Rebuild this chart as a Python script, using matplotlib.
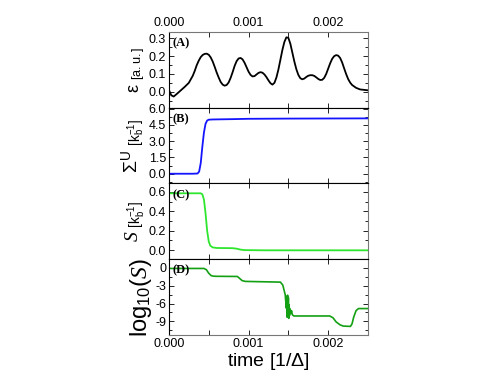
import numpy as np
import matplotlib
matplotlib.use('Agg')
from matplotlib import pyplot as plt
from matplotlib.ticker import MultipleLocator, FormatStrFormatter

plt.rcParams['font.family'] = ['Liberation Sans', 'DejaVu Sans']
plt.rcParams['axes.unicode_minus'] = False
plt.rcParams['mathtext.fontset'] = 'custom'
plt.rcParams['mathtext.rm'] = 'Liberation Sans'
plt.rcParams['mathtext.it'] = 'Liberation Serif:italic'

# panel A: field amplitude, time in units of 1e-3
tA = [0.00, 0.03, 0.06, 0.10, 0.15, 0.20, 0.25, 0.30, 0.325, 0.35, 0.375,
      0.40, 0.425, 0.45, 0.475, 0.50, 0.525, 0.55, 0.575, 0.60, 0.625, 0.65,
      0.675, 0.70, 0.725, 0.75, 0.775, 0.80, 0.825, 0.85, 0.875, 0.90, 0.925,
      0.95, 0.975, 1.00, 1.025, 1.05, 1.075, 1.10, 1.125, 1.15, 1.175, 1.20,
      1.225, 1.25, 1.275, 1.30, 1.325, 1.35, 1.375, 1.40, 1.425, 1.45, 1.475,
      1.50, 1.525, 1.55, 1.575, 1.60, 1.625, 1.65, 1.675, 1.70, 1.725, 1.75,
      1.775, 1.80, 1.825, 1.85, 1.875, 1.90, 1.925, 1.95, 1.975, 2.00, 2.025,
      2.05, 2.075, 2.10, 2.125, 2.15, 2.175, 2.20, 2.225, 2.25, 2.275, 2.30,
      2.35, 2.40, 2.50]
eps = [0.010, -0.020, -0.027, -0.012, 0.008, 0.028, 0.050, 0.090, 0.118,
       0.150, 0.175, 0.195, 0.207, 0.213, 0.214, 0.208, 0.193, 0.170, 0.140,
       0.108, 0.080, 0.055, 0.040, 0.034, 0.038, 0.052, 0.078, 0.110, 0.145,
       0.172, 0.187, 0.190, 0.182, 0.163, 0.138, 0.113, 0.095, 0.086, 0.088,
       0.097, 0.106, 0.110, 0.107, 0.097, 0.082, 0.064, 0.048, 0.040, 0.050,
       0.080, 0.125, 0.180, 0.235, 0.280, 0.306, 0.303, 0.270, 0.220, 0.170,
       0.127, 0.095, 0.076, 0.070, 0.074, 0.083, 0.090, 0.093, 0.093, 0.089,
       0.081, 0.072, 0.066, 0.067, 0.078, 0.100, 0.130, 0.160, 0.185, 0.200,
       0.206, 0.203, 0.190, 0.165, 0.132, 0.100, 0.072, 0.052, 0.038, 0.022,
       0.013, 0.008]

# panel B
tB = [0.00, 0.30, 0.36, 0.38, 0.40, 0.42, 0.44, 0.46, 0.48, 0.50, 0.55, 0.80,
      1.00, 1.50, 2.50]
sigU = [0.0, 0.0, 0.02, 0.2, 1.0, 2.5, 3.8, 4.6, 4.9, 4.98, 5.0, 5.03, 5.06,
        5.08, 5.1]

# panel C
tC = [0.00, 0.40, 0.42, 0.44, 0.46, 0.48, 0.50, 0.52, 0.55, 0.60, 0.80, 0.85,
      0.90, 0.95, 1.20, 2.50]
S = [0.585, 0.585, 0.575, 0.52, 0.38, 0.20, 0.09, 0.045, 0.028, 0.022, 0.020,
     0.015, 0.005, 0.0, -0.002, -0.002]

# panel D
tD = [0.00, 0.44, 0.47, 0.50, 0.53, 0.56, 0.59, 0.86, 0.89, 0.92, 0.96, 1.40,
      1.43, 1.46, 1.475, 1.48, 1.485, 1.49, 1.495, 1.50, 1.505, 1.51, 1.515,
      1.52, 1.53, 1.54, 1.55, 1.57, 2.02, 2.06, 2.10, 2.15, 2.19, 2.28, 2.30,
      2.32, 2.35, 2.38, 2.50]
logS = [-0.1, -0.1, -0.3, -0.9, -1.3, -1.4, -1.42, -1.45, -1.8, -2.15, -2.28,
        -2.4, -2.9, -4.5, -6.8, -4.8, -8.3, -4.6, -7.8, -5.0, -8.5, -6.2, -8.0,
        -6.9, -7.6, -7.2, -7.9, -8.1, -8.1, -8.4, -9.1, -9.6, -9.8, -9.85,
        -9.4, -8.3, -7.2, -6.85, -6.85]

fig = plt.figure(figsize=(4.91, 3.79), dpi=100)
gs = fig.add_gridspec(4, 1, left=0.344, right=0.7495, top=0.9156,
                      bottom=0.1161, hspace=0)
axs = [fig.add_subplot(gs[i]) for i in range(4)]

sc = 1e-3
axs[0].plot(np.array(tA) * sc, eps, color='black', lw=1.3)
axs[1].plot(np.array(tB) * sc, sigU, color='#1414ff', lw=1.3)
axs[2].plot(np.array(tC) * sc, S, color='#2ee62e', lw=1.3)
axs[3].plot(np.array(tD) * sc, logS, color='#13a013', lw=1.2)

axs[0].set_ylim(-0.09, 0.336)
axs[0].yaxis.set_major_locator(MultipleLocator(0.1))
axs[0].yaxis.set_minor_locator(MultipleLocator(0.05))
axs[0].yaxis.set_major_formatter(FormatStrFormatter('%.1f'))
axs[1].set_ylim(-0.9, 6.08)
axs[1].yaxis.set_major_locator(MultipleLocator(1.5))
axs[1].yaxis.set_minor_locator(MultipleLocator(0.75))
axs[1].yaxis.set_major_formatter(FormatStrFormatter('%.1f'))
axs[2].set_ylim(-0.094, 0.686)
axs[2].yaxis.set_major_locator(MultipleLocator(0.2))
axs[2].yaxis.set_minor_locator(MultipleLocator(0.1))
axs[2].yaxis.set_major_formatter(FormatStrFormatter('%.1f'))
axs[3].set_ylim(-11.3, 1.45)
axs[3].yaxis.set_major_locator(MultipleLocator(3))
axs[3].yaxis.set_minor_locator(MultipleLocator(1.5))
axs[3].yaxis.set_major_formatter(FormatStrFormatter('%d'))

labels = ['(A)', '(B)', '(C)', '(D)']
for i, ax in enumerate(axs):
    ax.set_xlim(0, 0.0025)
    ax.xaxis.set_major_locator(MultipleLocator(0.001))
    ax.xaxis.set_minor_locator(MultipleLocator(0.0005))
    ax.xaxis.set_major_formatter(FormatStrFormatter('%.3f'))
    ax.tick_params(which='both', direction='in', top=True, right=True,
                   labelsize=9, pad=2)
    ax.tick_params(which='major', length=3.5, width=0.6)
    ax.tick_params(which='minor', length=3.5, width=0.6)
    ax.tick_params(axis='y', which='minor', length=2)
    ax.tick_params(labelbottom=(i == 3), labeltop=(i == 0))
    for s in ax.spines.values():
        s.set_linewidth(0.8)
    ax.spines['right'].set_color('#777777')
    ax.text(0.02, 0.93, labels[i], transform=ax.transAxes, ha='left',
            va='top', fontsize=9, fontweight='bold', family='Liberation Serif')
axs[0].spines['top'].set_color('#777777')
axs[3].spines['bottom'].set_color('#777777')

axs[0].set_ylabel(r'$\mathrm{\varepsilon}$ $_{\mathrm{[a.u.]}}$', fontsize=13,
                  labelpad=1)
axs[1].set_ylabel(r'$\Sigma^{\mathrm{U}}\ _{[\mathrm{k_b^{-1}}]}$',
                  fontsize=14, labelpad=1)
axs[2].set_ylabel(r'$S\ _{[\mathrm{k_b^{-1}}]}$', fontsize=14, labelpad=1)
axs[3].set_ylabel(r'log$_{10}$($S$)', fontsize=17, labelpad=1)
axs[3].set_xlabel(r'time [1/$\Delta$]', fontsize=14, labelpad=1)

plt.savefig('out.png', dpi=100)
